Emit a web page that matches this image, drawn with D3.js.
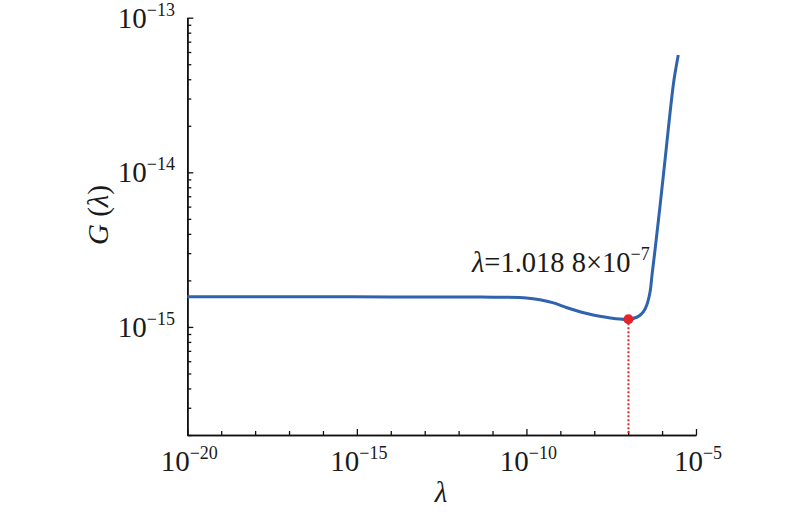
<!DOCTYPE html>
<html><head><meta charset="utf-8">
<script src="https://cdn.jsdelivr.net/npm/d3@7/dist/d3.min.js"></script>
<style>body{margin:0;background:#fff}svg{display:block}</style>
</head><body><svg id="c" width="800" height="512"></svg>
<script>
// data
const lambdaVals = [1e-20, 1e-18, 1e-16, 1e-14, 1e-12, 1e-11, 1e-10, 2.5e-10, 6.3e-10, 1.58e-9, 4e-9, 1e-8, 2.5e-8, 1.0188e-7, 1.78e-7, 2.23e-7, 2.79e-7, 3.52e-7, 4.41e-7, 5.05e-7, 6.18e-7, 8.69e-7, 1.22e-6, 1.71e-6, 2.24e-6, 3.0e-6];
const gVals      = [1.565e-15, 1.565e-15, 1.565e-15, 1.564e-15, 1.563e-15, 1.558e-15, 1.54e-15, 1.5e-15, 1.43e-15, 1.33e-15, 1.25e-15, 1.19e-15, 1.15e-15, 1.12e-15, 1.155e-15, 1.19e-15, 1.25e-15, 1.38e-15, 1.68e-15, 2.17e-15, 3.14e-15, 6.05e-15, 1.2e-14, 2.41e-14, 3.95e-14, 5.74e-14];
const xMajorTicks = [1e-20, 1e-15, 1e-10, 1e-5];
const xMajorExp = ["\u221220", "\u221215", "\u221210", "\u22125"];
const yMajorTicks = [1e-15, 1e-14, 1e-13];
const yMajorExp = ["\u221215", "\u221214", "\u221213"];
const optLambda = 1.0188e-7;
const optG = 1.12e-15;
const annotMantissa = "=1.018 8\u00d710";
const annotExp = "\u22127";

const FONT = "'Times New Roman', 'Liberation Serif', Tinos, Times, serif";
const svg = d3.select("#c").style("font-family", FONT);
const x = d3.scaleLog().domain([1e-20, 1e-5]).range([187.3, 696]);
const y = d3.scaleLog().domain([2e-16, 1e-13]).range([435, 17.7]);

// minor ticks
const xMinor = d3.range(-20, -4).map(e => Math.pow(10, e)).filter(v => !xMajorTicks.some(m => Math.abs(Math.log10(m) - Math.log10(v)) < 1e-9));
const yMinor = [];
for (let e = -16; e <= -14; e++) for (let m = 2; m <= 9; m++) { const v = m * Math.pow(10, e); if (v >= 2e-16 * 0.999 && v <= 1e-13) yMinor.push(v); }

const gx = svg.append("g").attr("transform", "translate(0,435)");
gx.call(d3.axisBottom(x).tickValues(xMinor).tickSize(-4).tickSizeOuter(0).tickFormat(""));
gx.append("g").call(d3.axisBottom(x).tickValues(xMajorTicks).tickSize(-6).tickSizeOuter(0).tickFormat(""));
const gy = svg.append("g").attr("transform", "translate(187.3,0)");
gy.call(d3.axisLeft(y).tickValues(yMinor).tickSize(-4).tickSizeOuter(0).tickFormat(""));
gy.append("g").call(d3.axisLeft(y).tickValues(yMajorTicks).tickSize(-6).tickSizeOuter(0).tickFormat(""));
svg.selectAll(".domain").attr("stroke", "#111").attr("stroke-width", 1.6);
svg.selectAll(".tick line").attr("stroke", "#111").attr("stroke-width", 1.3);

function txt(sel) { return sel.attr("font-family", FONT).attr("fill", "#1a1a1a"); }

// tick labels
xMajorTicks.forEach((v, i) => {
  const t = txt(svg.append("text")).attr("x", x(v) + 2).attr("y", 471).attr("text-anchor", "middle").attr("font-size", 29);
  t.append("tspan").text("10");
  t.append("tspan").attr("font-size", 18).attr("dy", -12).text(xMajorExp[i]);
});
yMajorTicks.forEach((v, i) => {
  const t = txt(svg.append("text")).attr("x", 175).attr("y", y(v) + 10).attr("text-anchor", "end").attr("font-size", 29);
  t.append("tspan").text("10");
  t.append("tspan").attr("font-size", 18).attr("dy", -12).text(yMajorExp[i]);
});

// axis titles
txt(svg.append("text")).attr("x", 441).attr("y", 502).attr("text-anchor", "middle").attr("font-size", 29).attr("font-style", "italic").text("\u03bb");
const yt = txt(svg.append("text")).attr("transform", "translate(108,215) rotate(-90)").attr("text-anchor", "middle").attr("font-size", 29);
yt.append("tspan").attr("font-style", "italic").text("G");
yt.append("tspan").text(" (");
yt.append("tspan").attr("font-style", "italic").text("\u03bb");
yt.append("tspan").text(")");

// curve
const pts = lambdaVals.map((l, i) => [l, gVals[i]]);
svg.append("path").datum(pts)
  .attr("fill", "none").attr("stroke", "#2f63ae").attr("stroke-width", 3)
  .attr("d", d3.line().x(d => x(d[0])).y(d => y(d[1])).curve(d3.curveCatmullRom.alpha(0.5)));

// optimum marker
svg.append("line").attr("x1", x(optLambda)).attr("x2", x(optLambda)).attr("y1", y(optG)).attr("y2", 435)
  .attr("stroke", "#e3242b").attr("stroke-width", 2).attr("stroke-dasharray", "2,2");
svg.append("circle").attr("cx", x(optLambda)).attr("cy", y(optG)).attr("r", 5).attr("fill", "#e3242b");

// annotation
const an = txt(svg.append("text")).attr("x", 472).attr("y", 272).attr("font-size", 28.5);
an.append("tspan").attr("font-style", "italic").text("\u03bb");
an.append("tspan").text(annotMantissa);
an.append("tspan").attr("font-size", 18).attr("dy", -12).text(annotExp);
</script></body></html>
